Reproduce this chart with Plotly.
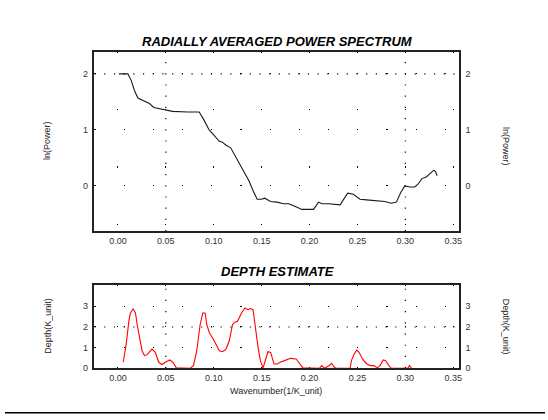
import plotly.graph_objects as go

# ---------------- data ----------------
spec_k = [0.001, 0.0104, 0.0139, 0.0173, 0.0208, 0.026, 0.0329, 0.0374, 0.0433, 0.050,
          0.057, 0.0727, 0.0848, 0.090, 0.0952, 0.1004, 0.1056, 0.109, 0.1125, 0.1177,
          0.1246, 0.1308, 0.1367, 0.1412, 0.1453, 0.1499, 0.1533, 0.1592, 0.1661, 0.173,
          0.1782, 0.1852, 0.192, 0.2042, 0.2094, 0.2128, 0.2198, 0.2319, 0.2353, 0.2398,
          0.2457, 0.2527, 0.2595, 0.2699, 0.2786, 0.2855, 0.2907, 0.2952, 0.2994, 0.3046,
          0.3098, 0.3132, 0.3173, 0.3218, 0.3264, 0.3298, 0.3316, 0.3332]
spec_lnp = [2.0, 2.0, 1.88, 1.70, 1.57, 1.53, 1.47, 1.40, 1.38, 1.36,
            1.33, 1.32, 1.32, 1.17, 1.0, 0.90, 0.80, 0.78, 0.73, 0.68,
            0.47, 0.29, 0.09, -0.09, -0.24, -0.24, -0.22, -0.28, -0.29, -0.32,
            -0.32, -0.37, -0.42, -0.42, -0.29, -0.32, -0.32, -0.34, -0.24, -0.13,
            -0.15, -0.24, -0.25, -0.27, -0.28, -0.31, -0.29, -0.12, 0.0, -0.02,
            -0.02, 0.03, 0.13, 0.16, 0.23, 0.28, 0.25, 0.18]

depth_k = [0.0055, 0.0086, 0.0114, 0.013, 0.0159, 0.0183, 0.020, 0.0228, 0.0252, 0.0277,
           0.0304, 0.0356, 0.039, 0.0425, 0.046, 0.0495, 0.054, 0.0574, 0.0609, 0.0754,
           0.0788, 0.0823, 0.0858, 0.0885, 0.091, 0.0927, 0.0954, 0.0996, 0.103, 0.1058,
           0.1092, 0.1128, 0.1162, 0.1196, 0.122, 0.1248, 0.129, 0.1325, 0.1359, 0.1383,
           0.141, 0.1428, 0.1463, 0.1487, 0.1515, 0.1543, 0.1566, 0.1594, 0.1629, 0.1663,
           0.1704, 0.174, 0.180, 0.186, 0.1895, 0.193, 0.2103, 0.2127, 0.2155, 0.2206,
           0.223, 0.2258, 0.2275, 0.2424, 0.2437, 0.2466, 0.2493, 0.2517, 0.2552, 0.2597,
           0.2638, 0.2673, 0.2708, 0.2735, 0.277, 0.2794, 0.2829, 0.2853, 0.3026, 0.3043,
           0.3064]
depth_val = [0.29, 1.17, 2.28, 2.68, 2.87, 2.68, 2.12, 1.33, 0.85, 0.61,
             0.66, 0.93, 0.77, 0.29, 0.18, 0.29, 0.40, 0.29, 0.02, 0.0,
             0.13, 0.85, 2.12, 2.68, 2.68, 2.12, 1.72, 1.41, 1.09, 0.85,
             0.80, 0.93, 1.33, 2.12, 2.23, 2.28, 2.68, 2.92, 2.84, 2.89,
             2.84, 2.12, 1.0, 0.37, 0.02, 0.45, 0.80, 0.77, 0.21, 0.21,
             0.32, 0.37, 0.48, 0.45, 0.24, 0.02, 0.0, 0.13, 0.0, 0.13,
             0.24, 0.05, 0.0, 0.0, 0.37, 0.69, 0.88, 0.77, 0.45, 0.21,
             0.13, 0.13, 0.02, 0.13, 0.40, 0.37, 0.13, 0.0, 0.0, 0.13,
             0.0]

x_ticks = [0.00, 0.05, 0.10, 0.15, 0.20, 0.25, 0.30, 0.35]
top_y_ticks = [0, 1, 2]
bot_y_ticks = [0, 1, 2, 3]
dense_grid_x = [0.05, 0.30]
dense_grid_y = [2]

# ---------------- style ----------------
FONT = "Liberation Sans, Arial, sans-serif"
TICKFONT = dict(family=FONT, size=9, color="#333333")
x_range = [-0.0245, 0.3565]
top_y_range = [-0.81, 2.39]
bot_y_range = [0, 4.04]
xdom = [95 / 548, 462 / 548]
top_dom = [1 - 234 / 420, 1 - 52.7 / 420]
bot_dom = [1 - 372.7 / 420, 1 - 288.3 / 420]
GRIDW = 1.2

fig = go.Figure()
fig.add_trace(go.Scatter(x=spec_k, y=spec_lnp, mode="lines",
                         line=dict(color="#1a1a1a", width=1.1),
                         xaxis="x", yaxis="y", showlegend=False, hoverinfo="skip"))
fig.add_trace(go.Scatter(x=depth_k, y=depth_val, mode="lines",
                         line=dict(color="#ff0000", width=1.1),
                         xaxis="x2", yaxis="y2", showlegend=False, hoverinfo="skip"))
# invisible traces for right-side mirrored axes
fig.add_trace(go.Scatter(x=spec_k, y=spec_lnp, mode="lines", opacity=0,
                         line=dict(width=0), xaxis="x", yaxis="y3",
                         showlegend=False, hoverinfo="skip"))
fig.add_trace(go.Scatter(x=depth_k, y=depth_val, mode="lines", opacity=0,
                         line=dict(width=0), xaxis="x2", yaxis="y4",
                         showlegend=False, hoverinfo="skip"))

frame = dict(showline=True, linecolor="#222222", linewidth=1.5, mirror=True,
             zeroline=False, ticks="", tickfont=TICKFONT)

fig.update_layout(
    width=548, height=420, autosize=False,
    margin=dict(l=0, r=0, t=0, b=0),
    paper_bgcolor="white", plot_bgcolor="white",
    xaxis=dict(domain=xdom, anchor="y", range=x_range, tickvals=x_ticks,
               tickformat=".2f", showgrid=True, gridcolor="#000000", gridwidth=GRIDW,
               griddash="1.2px,56px", **frame),
    yaxis=dict(domain=top_dom, anchor="x", range=top_y_range, tickvals=top_y_ticks,
               showgrid=True, gridcolor="#000000", gridwidth=GRIDW,
               griddash="1.2px,28px", ticklabelstandoff=3, **frame),
    yaxis3=dict(overlaying="y", side="right", anchor="x", range=top_y_range,
                tickvals=top_y_ticks, showgrid=False, showline=False, zeroline=False,
                ticks="", tickfont=TICKFONT, ticklabelstandoff=5),
    xaxis2=dict(domain=xdom, anchor="y2", range=x_range, tickvals=x_ticks,
                tickformat=".2f", showgrid=True, gridcolor="#000000", gridwidth=GRIDW,
                griddash="1.2px,40px", **frame),
    yaxis2=dict(domain=bot_dom, anchor="x2", range=bot_y_range, tickvals=bot_y_ticks,
                showgrid=True, gridcolor="#000000", gridwidth=GRIDW,
                griddash="1.2px,28px", ticklabelstandoff=3, **frame),
    yaxis4=dict(overlaying="y2", side="right", anchor="x2", range=bot_y_range,
                tickvals=bot_y_ticks, showgrid=False, showline=False, zeroline=False,
                ticks="", tickfont=TICKFONT, ticklabelstandoff=5),
)

shapes = []
for xr, yr in (("x", "y"), ("x2", "y2")):
    for gx in dense_grid_x:
        shapes.append(dict(type="line", xref=xr, yref=yr + " domain", x0=gx, x1=gx,
                           y0=0, y1=1, layer="below",
                           line=dict(color="#000000", width=GRIDW, dash="1.2px,10px")))
    for gy in dense_grid_y:
        shapes.append(dict(type="line", xref=xr + " domain", yref=yr, x0=0, x1=1,
                           y0=gy, y1=gy, layer="below",
                           line=dict(color="#000000", width=GRIDW, dash="1.2px,8.5px")))
shapes.append(dict(type="line", xref="paper", yref="paper", x0=5 / 548, x1=1,
                   y0=1 - 417.7 / 420, y1=1 - 417.7 / 420,
                   line=dict(color="#000000", width=1.5)))
fig.update_layout(shapes=shapes)

LAB = dict(family=FONT, size=9, color="#222222")
TIT = dict(family=FONT, size=13, color="#000000")
ann = [
    dict(text="<b><i>RADIALLY AVERAGED POWER SPECTRUM</i></b>", x=279 / 548, y=1 - 41.7 / 420,
         font=TIT),
    dict(text="<b><i>DEPTH ESTIMATE</i></b>", x=279 / 548, y=1 - 275 / 420, font=TIT),
    dict(text="ln(Power)", x=48 / 548, y=1 - 142 / 420, textangle=-90, font=LAB),
    dict(text="ln(Power)", x=509 / 548, y=1 - 148 / 420, textangle=90, font=LAB),
    dict(text="Depth(K_unit)", x=48 / 548, y=1 - 330 / 420, textangle=-90, font=LAB),
    dict(text="Depth(K_unit)", x=509 / 548, y=1 - 331 / 420, textangle=90, font=LAB),
    dict(text="Wavenumber(1/K_unit)", x=278 / 548, y=1 - 396 / 420, font=LAB),
]
for a in ann:
    a.update(xref="paper", yref="paper", showarrow=False, xanchor="center", yanchor="middle")
fig.update_layout(annotations=ann)

fig.write_html("out.html")
